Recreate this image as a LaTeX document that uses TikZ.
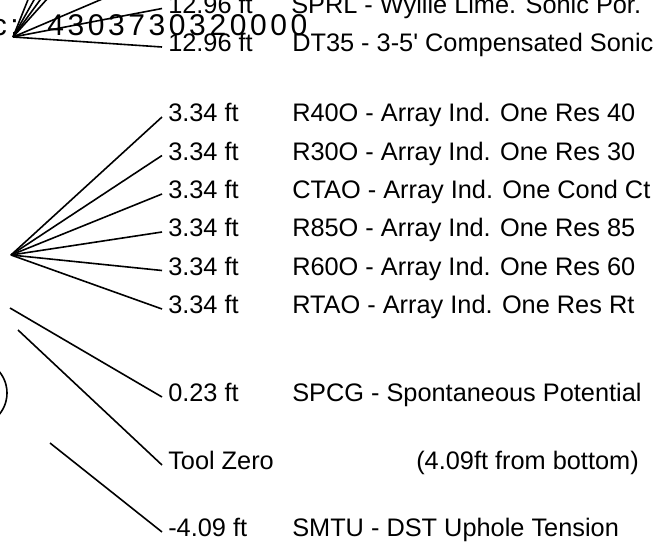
\documentclass[tikz,border=0pt]{standalone}
\usepackage{fontspec}
\setmainfont{Liberation Sans}
\newfontfamily\apifont[LetterSpace=12]{Liberation Sans}

\begin{document}
\begin{tikzpicture}[x=0.75pt,y=-0.75pt,
  every node/.style={font=\fontsize{19}{23}\selectfont},
  val/.style={anchor=west,inner xsep=4.5pt,inner ysep=0pt,text height=0.72em,text depth=0pt},
  desc/.style={anchor=west,inner sep=0pt,text height=0.72em,text depth=0pt},
  lead/.style={line width=1.2pt}]
        \useasboundingbox (0,0) rectangle (668,550);
        \clip (0,0) rectangle (668,550);

        % api number
        \node[anchor=base east,inner sep=0pt,font=\apifont\fontsize{22.5}{27}\selectfont] (apic) at (19,35) {c:};
        \node[anchor=base west,inner sep=0pt,font=\apifont\fontsize{22.5}{27}\selectfont] (apinum) at (47,35) {4303730320000};

        % upper fan
        \coordinate (top) at (13,37);
        \foreach \X/\n in {52/1,68/2,84/3,100/4,241/5}
            \coordinate (up\n) at (\X,-60);
        \node[val] (sprlv) at (162,8.5) {12.96 ft};
        \node[desc] (sprl) at (291,8.5) {SPRL - Wyllie Lime. Sonic Por.};
        \node[val] (dt35v) at (162,47) {12.96 ft};
        \node[desc] (dt35) at (292,47) {DT35 - 3-5\textquotesingle{} Compensated Sonic};
        \foreach \n in {1,...,5}
            \draw[lead] (top) -- (up\n);
        \draw[lead] (top) -- (sprlv.west);
        \draw[lead] (top) -- (dt35v.west);

        % array induction fan
        \coordinate (mid) at (11,255);
        \foreach \code/\what/\Y in {R40O/Res 40/117,R30O/Res 30/155.5,CTAO/Cond Ct/194,R85O/Res 85/232,R60O/Res 60/270.5,RTAO/Res Rt/309} {
            \node[val] (\code-v) at (162,\Y) {3.34 ft};
            \node[desc] (\code) at (292,\Y) {\code\ - Array Ind. One \what};
            \draw[lead] (mid) -- (\code-v.west);}

        % lower sensors
        \coordinate (spcgend) at (10,308);
        \coordinate (zeroend) at (18,330);
        \coordinate (smtuend) at (50,443);
        \node[val] (spcgv) at (162,397) {0.23 ft};
        \node[desc] (spcg) at (292,397) {SPCG - Spontaneous Potential};
        \node[val] (zerov) at (162,465) {Tool Zero};
        \node[desc] (zero) at (416,465) {(4.09ft from bottom)};
        \node[val] (smtuv) at (162,532) {-4.09 ft};
        \node[desc] (smtu) at (292,532) {SMTU - DST Uphole Tension};
        \draw[lead] (spcgend) -- (spcgv.west);
        \draw[lead] (zeroend) -- (zerov.west);
        \draw[lead] (smtuend) -- (smtuv.west);

        %\draw[lead] (0,0) -- (0,550);
        \draw[lead] (-26.5,393) circle (33.5);
\end{tikzpicture}
\end{document}
